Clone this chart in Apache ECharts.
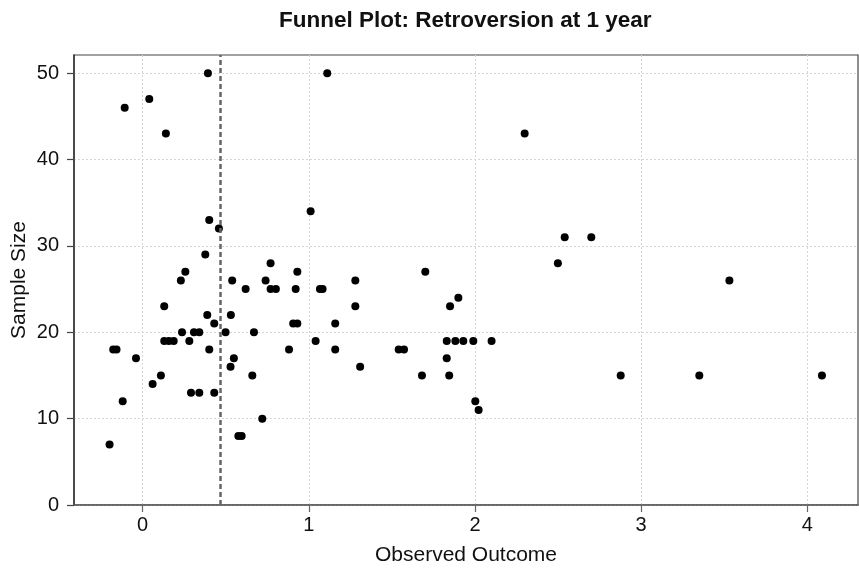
<!DOCTYPE html>
<html>
<head>
<meta charset="utf-8">
<title>Funnel Plot: Retroversion at 1 year</title>
<script src="https://cdn.jsdelivr.net/npm/echarts@6/dist/echarts.min.js"></script>
<style>
  html, body { margin: 0; padding: 0; background: #fff; }
  #chart { width: 859px; height: 574px; }
</style>
</head>
<body>
<div id="chart"></div>
<script>
// Observed outcome (x) and sample size (y) for each study
const observedOutcome = [
  0.393, 1.111, -0.108, 0.040, 0.140, 0.401, 0.459, 1.011, 2.299, 2.540,
  2.700, 2.499, 1.280, 1.701, 1.280, 1.900, 1.850, 1.159, 1.159, 1.541,
  1.573, 1.309, 1.830, 1.882, 1.930, 1.990, 2.100, 1.830, 1.681, 1.845,
  2.002, 2.022, 3.531, 2.877, 3.350, 4.088, 0.377, 0.770, 0.257, 0.931,
  0.230, 0.539, 0.740, 0.620, 0.770, 0.802, 0.921, 1.067, 1.083, 0.130,
  0.389, 0.531, 0.431, 0.906, 0.931, 0.237, 0.309, 0.341, 0.499, 0.670,
  0.130, 0.158, 0.187, 0.281, 1.041, -0.177, -0.157, 0.401, 0.881, -0.040,
  0.549, 0.529, 0.110, 0.660, 0.060, 0.291, 0.341, 0.431, -0.120, 0.720,
  0.576, 0.596, -0.199
];
const sampleSize = [
  50, 50, 46, 47, 43, 33, 32, 34, 43, 31,
  31, 28, 26, 27, 23, 24, 23, 21, 18, 18,
  18, 16, 19, 19, 19, 19, 19, 17, 15, 15,
  12, 11, 26, 15, 15, 15, 29, 28, 27, 27,
  26, 26, 26, 25, 25, 25, 25, 25, 25, 23,
  22, 22, 21, 21, 21, 20, 20, 20, 20, 20,
  19, 19, 19, 19, 19, 18, 18, 18, 18, 17,
  17, 16, 15, 15, 14, 13, 13, 13, 12, 10,
  8, 8, 7
];
// Pooled estimate shown as the vertical reference line
const pooledEstimate = 0.475;

const xTicks = [0, 1, 2, 3, 4];
const yTicks = [0, 10, 20, 30, 40, 50];

const points = observedOutcome.map((x, i) => [x, sampleSize[i]]);

const font = '"Liberation Sans", Arial, sans-serif';
const chart = echarts.init(document.getElementById('chart'), null, { renderer: 'canvas' });

chart.setOption({
  animation: false,
  backgroundColor: '#ffffff',
  title: {
    text: 'Funnel Plot: Retroversion at 1 year',
    left: 279,
    top: 9,
    padding: 0,
    textStyle: { fontFamily: font, fontSize: 22.5, fontWeight: 'bold', color: '#111' }
  },
  grid: {
    left: 74, right: 1, top: 55, bottom: 69,
    outerBoundsMode: 'none',
    containLabel: false,
    show: true, borderColor: '#444', borderWidth: 1.2, backgroundColor: '#fff'
  },
  xAxis: {
    type: 'value',
    min: -0.413, max: 4.305,
    name: 'Observed Outcome',
    nameLocation: 'middle',
    nameGap: 40,
    nameMoveOverlap: false,
    nameTextStyle: { fontFamily: font, fontSize: 21, color: '#111' },
    axisLine: { show: true, onZero: false, lineStyle: { color: '#555', width: 1.5 } },
    axisTick: { show: true, length: 7, customValues: xTicks, lineStyle: { color: '#666', width: 1.2 } },
    axisLabel: { customValues: xTicks, margin: 10, fontFamily: font, fontSize: 20, color: '#111' },
    splitLine: { show: true, lineStyle: { color: '#d6d6d6', type: [2, 2], width: 1 } }
  },
  yAxis: {
    type: 'value',
    min: 0, max: 52.1,
    name: 'Sample Size',
    nameLocation: 'middle',
    nameGap: 44,
    nameMoveOverlap: false,
    nameTextStyle: { fontFamily: font, fontSize: 21, color: '#111' },
    axisLine: { show: true, onZero: false, lineStyle: { color: '#333', width: 1.5 } },
    axisTick: { show: true, length: 7, customValues: yTicks, lineStyle: { color: '#444', width: 1.2 } },
    axisLabel: { customValues: yTicks, margin: 15, fontFamily: font, fontSize: 20, color: '#111' },
    splitLine: { show: true, lineStyle: { color: '#d6d6d6', type: [2, 2], width: 1 } }
  },
  series: [{
    type: 'scatter',
    data: points,
    symbol: 'circle',
    symbolSize: 8,
    itemStyle: { color: '#000', opacity: 1 },
    markLine: {
      silent: true,
      symbol: ['none', 'none'],
      label: { show: false },
      lineStyle: { color: '#666', type: [5, 3], width: 2.5 },
      data: [{ xAxis: pooledEstimate }]
    }
  }]
});
</script>
</body>
</html>
